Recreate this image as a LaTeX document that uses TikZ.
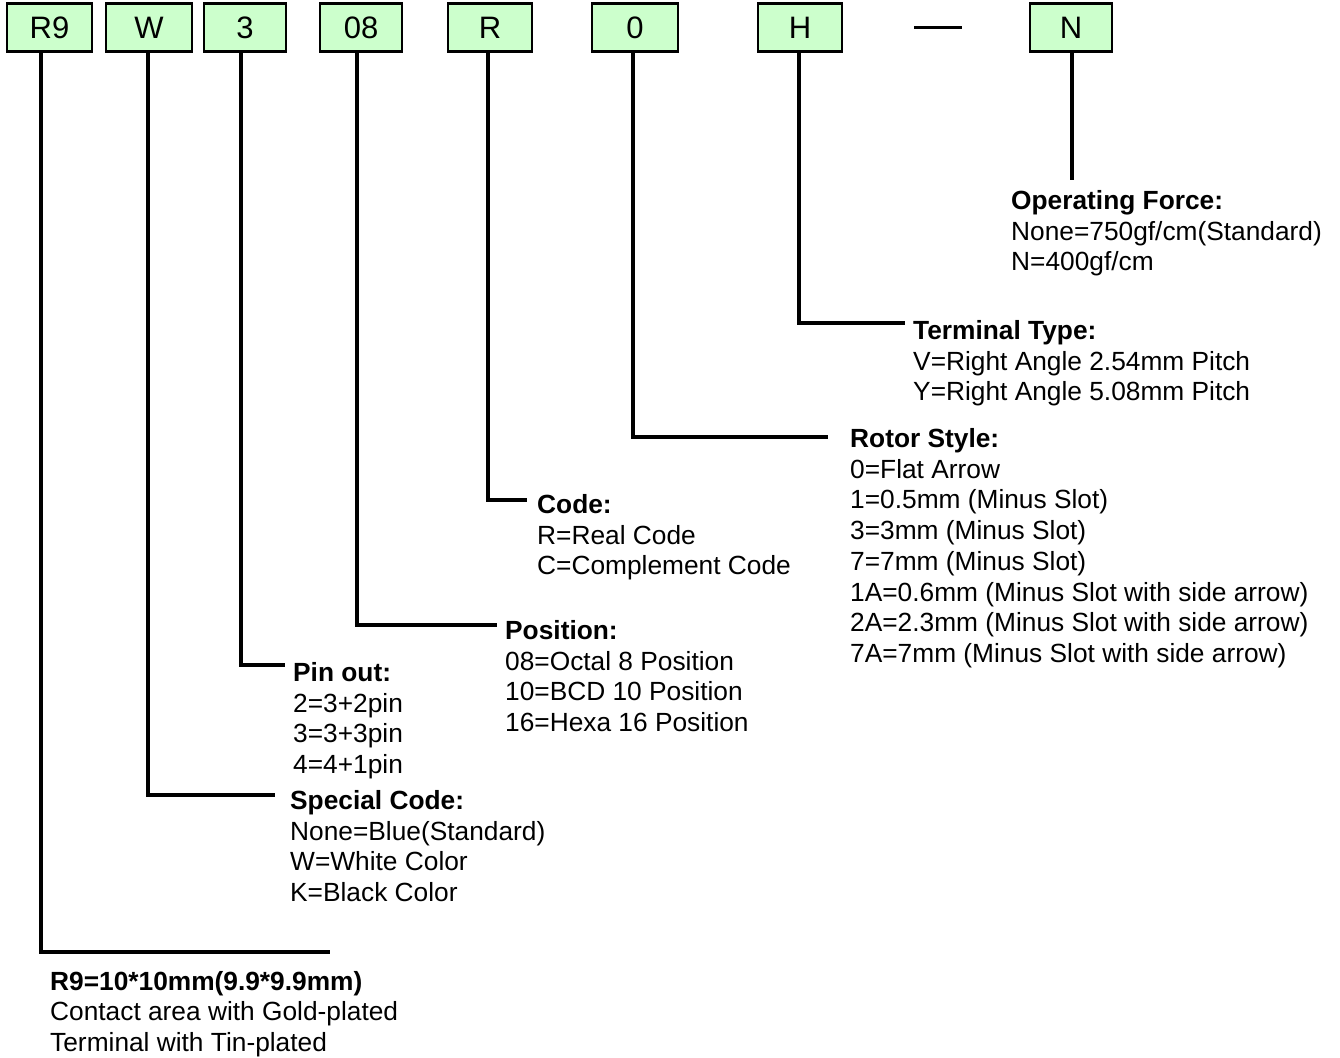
\documentclass[tikz,border=0pt]{standalone}
\usepackage{fontspec}
\setmainfont{Liberation Sans}
\definecolor{boxgreen}{HTML}{CCFFCC}
\begin{document}
\begin{tikzpicture}[x=1pt,y=-1pt,
  codebox/.style={draw=black, line width=2.4pt, fill=boxgreen, minimum height=48pt, inner sep=0pt, font=\fontsize{31}{33}\selectfont},
  lead/.style={line width=4pt},
  lbl/.style={anchor=base west, align=left, inner sep=0pt, font=\fontsize{26.3}{30.7}\selectfont}]
\useasboundingbox (0,0) rectangle (1340,1057);
% code boxes
\node[codebox, minimum width=85pt] (r9) at (49.5,27.5) {R9};
\node[codebox, minimum width=86pt] (w)  at (149,27.5) {W};
\node[codebox, minimum width=82pt] (p3) at (245,27.5) {3};
\node[codebox, minimum width=82pt] (p08) at (361,27.5) {08};
\node[codebox, minimum width=84pt] (r)  at (490,27.5) {R};
\node[codebox, minimum width=86pt] (z)  at (635,27.5) {0};
\node[codebox, minimum width=84pt] (h)  at (800,27.5) {H};
\node[codebox, minimum width=82pt] (n)  at (1071,27.5) {N};
\coordinate (dashl) at (914,28);
\coordinate (dashr) at (962,28);
\draw[line width=3pt] (dashl) -- (dashr);
% vertical x positions
\coordinate (xr9) at (41,0);
\coordinate (xw) at (148,0);
\coordinate (x3) at (241,0);
\coordinate (x08) at (357,0);
\coordinate (xr) at (488,0);
\coordinate (xz) at (633,0);
\coordinate (xh) at (799,0);
\coordinate (xn) at (1072,0);
% connector ends
\coordinate (nend) at (1072,180);
\coordinate (hend) at (905,323);
\coordinate (zend) at (828,437);
\coordinate (rend) at (527,500);
\coordinate (p08end) at (497,625);
\coordinate (p3end) at (285,665);
\coordinate (wend) at (275,795);
\coordinate (r9end) at (330,952);
% labels (anchored at the baseline of their last line)
\node[lbl] (ln) at (1011,270.9) {\textbf{Operating Force:}\\None=750gf/cm(Standard)\\N=400gf/cm};
\node[lbl] (lh) at (913,400.9) {\textbf{Terminal Type:}\\V=Right Angle 2.54mm Pitch\\Y=Right Angle 5.08mm Pitch};
\node[lbl] (lz) at (850,662.4) {\textbf{Rotor Style:}\\0=Flat Arrow\\1=0.5mm (Minus Slot)\\3=3mm (Minus Slot)\\7=7mm (Minus Slot)\\1A=0.6mm (Minus Slot with side arrow)\\2A=2.3mm (Minus Slot with side arrow)\\7A=7mm (Minus Slot with side arrow)};
\node[lbl] (lr) at (537,574.9) {\textbf{Code:}\\R=Real Code\\C=Complement Code};
\node[lbl] (l08) at (505,731.6) {\textbf{Position:}\\08=Octal 8 Position\\10=BCD 10 Position\\16=Hexa 16 Position};
\node[lbl] (l3) at (293,773.6) {\textbf{Pin out:}\\2=3+2pin\\3=3+3pin\\4=4+1pin};
\node[lbl] (lw) at (290,901.6) {\textbf{Special Code:}\\None=Blue(Standard)\\W=White Color\\K=Black Color};
\node[lbl] (lr9) at (50,1051.5) {\textbf{R9=10*10mm(9.9*9.9mm)}\\Contact area with Gold-plated\\Terminal with Tin-plated};
% connectors
\draw[lead] (n.south -| xn) -- (nend);
\draw[lead] (h.south -| xh) |- (hend);
\draw[lead] (z.south -| xz) |- (zend);
\draw[lead] (r.south -| xr) |- (rend);
\draw[lead] (p08.south -| x08) |- (p08end);
\draw[lead] (p3.south -| x3) |- (p3end);
\draw[lead] (w.south -| xw) |- (wend);
\draw[lead] (r9.south -| xr9) |- (r9end);
\end{tikzpicture}
\end{document}
